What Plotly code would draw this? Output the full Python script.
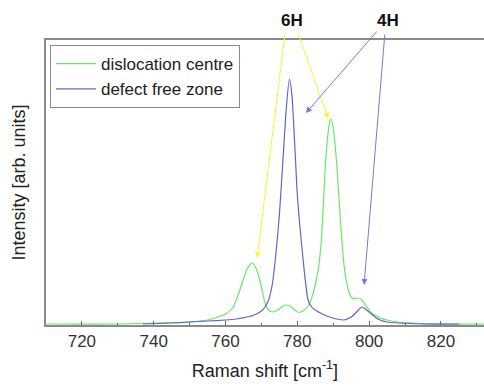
import plotly.graph_objects as go

# Raman shift (cm^-1) and intensity (arb. units)
green_x = [710, 730, 740, 750, 755, 758, 760, 762, 763, 764, 765, 766, 767, 767.5, 768, 769, 770,
           771, 772, 773, 774, 775, 776, 777, 778, 779, 780, 781, 782, 783, 784, 785, 786, 786.7,
           787.6, 788, 789, 789.4, 790, 791, 792, 793, 794, 795, 796, 797, 798, 799, 800, 801, 802,
           803, 805, 808, 812, 820, 832]
green_y = [1, 1, 2, 3, 5, 8, 11, 17, 25, 35, 46, 56, 61, 62, 60, 52, 38,
           22, 15, 13, 14, 16, 19, 20, 19, 16, 13, 13, 15, 19, 27, 40, 60, 85,
           145, 170, 203, 206, 197, 160, 105, 60, 38, 28, 26, 27, 25, 20, 15, 11, 9,
           7, 5, 3, 2, 1, 1]

blue_x = [737, 745, 750, 755, 760, 763, 766, 768, 770, 771, 772, 773, 774, 775, 776, 777, 777.8,
          778.5, 779, 779.5, 780, 781, 782, 783, 784, 785, 787, 789, 791, 793, 795, 796, 797, 798,
          799, 800, 801, 802, 803, 805, 808, 815, 825]
blue_y = [1, 2, 3, 4, 5, 6, 8, 10, 14, 18, 25, 40, 70, 110, 165, 220, 246,
          230, 200, 165, 130, 88, 52, 25, 18, 15, 11, 8, 6, 5, 8, 11, 15, 18,
          16, 13, 10, 7, 5, 3, 2, 1, 1]

x_ticks = [720, 740, 760, 780, 800, 820]
series_names = ["dislocation centre", "defect free zone"]

GREEN = "#6ae66a"
BLUE = "#6464c8"
YELLOW = "#f5f53c"
ARROW_BLUE = "#7a7ad0"
FONT = "Liberation Sans, Arial, sans-serif"

fig = go.Figure()
fig.add_trace(go.Scatter(x=green_x, y=green_y, mode="lines", name=series_names[0],
                         line=dict(color=GREEN, width=1.2, shape="spline", smoothing=0.6)))
fig.add_trace(go.Scatter(x=blue_x, y=blue_y, mode="lines", name=series_names[1],
                         line=dict(color=BLUE, width=1.2, shape="spline", smoothing=0.6)))

# annotation arrows: (tail_x, tail_y, tip_x, tip_y, color)
arrows = [
    (776.6, 292, 768.8, 67, YELLOW),
    (780.2, 292, 788.6, 206, YELLOW),
    (802.5, 295, 782.4, 212, ARROW_BLUE),
    (804.4, 292, 798.6, 40, ARROW_BLUE),
]
for tx, ty, hx, hy, c in arrows:
    fig.add_annotation(x=hx, y=hy, ax=tx, ay=ty, xref="x", yref="y", axref="x", ayref="y",
                       text="", showarrow=True, arrowhead=2, arrowsize=1.2, arrowwidth=1,
                       arrowcolor=c)
for label, lx in [("6H", 778.5), ("4H", 805.3)]:
    fig.add_annotation(x=lx, y=1.07, xref="x", yref="paper", yanchor="middle",
                       text="<b>%s</b>" % label, showarrow=False,
                       font=dict(family=FONT, size=17, color="#111"))

fig.update_layout(
    width=484, height=386,
    margin=dict(l=46, r=0, t=40, b=61),
    paper_bgcolor="white", plot_bgcolor="white",
    font=dict(family=FONT, size=16, color="#333"),
    showlegend=True,
    legend=dict(x=0.009, y=0.982, xanchor="left", yanchor="top",
                bordercolor="#8a8a8a", borderwidth=1, bgcolor="white",
                font=dict(family=FONT, size=17, color="#222"),
                tracegroupgap=0, itemwidth=40, entrywidth=215, entrywidthmode="pixels"),
    xaxis=dict(range=[710, 832], tickvals=x_ticks, ticks="inside", ticklen=4,
               tickcolor="#666", showgrid=False, zeroline=False,
               showline=True, linecolor="#8a8a8a", linewidth=1.5, mirror=True,
               minor=dict(dtick=10, ticks="inside", ticklen=2, tickcolor="#666"),
               title=dict(text="Raman shift [cm<sup>-1</sup>]", font=dict(size=18, color="#222"),
                          standoff=14),
               tickfont=dict(size=17, color="#333")),
    yaxis=dict(range=[0, 285], showticklabels=False, ticks="", showgrid=False, zeroline=False,
               showline=True, linecolor="#8a8a8a", linewidth=1.5, mirror=False,
               title=dict(text="Intensity [arb. units]", font=dict(size=18, color="#222"),
                          standoff=14)),
)

fig.write_html("out.html")
